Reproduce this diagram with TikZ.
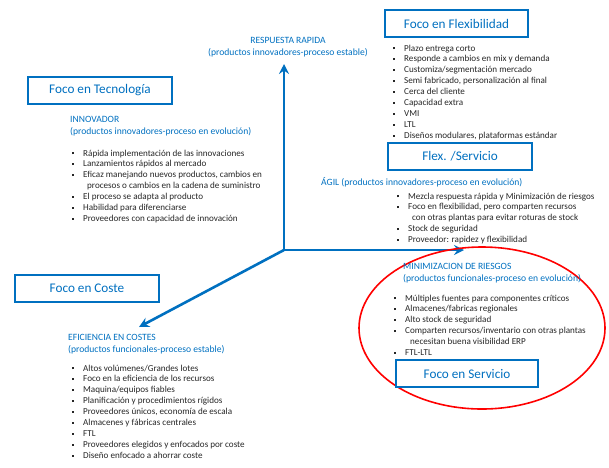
\documentclass[tikz,border=0pt]{standalone}
\usepackage{fontspec}
\setmainfont{Carlito}
\usetikzlibrary{arrows.meta}
\definecolor{mblue}{RGB}{0,112,192}
\definecolor{txt}{RGB}{38,38,38}
\newcommand\bx{\makebox[11pt][l]{\rule[1.7pt]{2pt}{2pt}}}
\tikzset{
  focobox/.style={draw=mblue, line width=2pt, fill=white, minimum width=#1, minimum height=27pt, inner sep=0pt, text=mblue, font=\fontsize{13.2}{15}\selectfont},
  head/.style={anchor=base west, inner sep=0pt, text=mblue, font=\fontsize{9.6}{12}\selectfont},
  lst/.style={anchor=base west, inner sep=0pt, text=txt, font=\fontsize{9.1}{10.9}\selectfont},
  axis/.style={draw=mblue, line width=2.6pt, -{Stealth[length=10pt,width=10pt,inset=3.5pt]}},
}
\begin{document}
\begin{tikzpicture}[x=1pt,y=-1pt]
\useasboundingbox (0,0) rectangle (609,467);
% axes
\coordinate (O) at (284,250);
\coordinate (tipU) at (284,64);
\coordinate (tipR) at (464,250);
\coordinate (tipD) at (139,327);
\draw[axis] (O) -- (tipU);
\draw[axis] (O) -- (tipR);
\draw[axis] (O) -- (tipD);
% red ellipse
\draw[red, line width=1.6pt] (482,328) ellipse [x radius=123pt, y radius=81pt];
% boxes
\node[focobox=144pt] (ftec) at (100,90) {Foco en Tecnología};
\node[focobox=143pt] (fflex) at (456.5,23.5) {Foco en Flexibilidad};
\node[focobox=144pt] (fserv2) at (460,156.5) {Flex. /Servicio};
\node[focobox=142pt] (fserv) at (467,373.5) {Foco en Servicio};
\node[focobox=144pt] (fcost) at (87,288) {Foco en Coste};
% respuesta rapida
\node[head, anchor=base] (rr) at (288,43.5) {\begin{tabular}[t]{@{}c@{}}RESPUESTA RAPIDA\\(productos innovadores-proceso estable)\end{tabular}};
% innovador
\node[head] (inn) at (70,122) {\begin{tabular}[t]{@{}l@{}}INNOVADOR\\(productos innovadores-proceso en evolución)\end{tabular}};
\node[lst] (innl) at (72,156) {\begin{tabular}[t]{@{}l@{}}
\bx Rápida implementación de las innovaciones\\
\bx Lanzamientos rápidos al mercado\\
\bx Eficaz manejando nuevos productos, cambios en\\
\hspace*{15pt}procesos o cambios en la cadena de suministro\\
\bx El proceso se adapta al producto\\
\bx Habilidad para diferenciarse\\
\bx Proveedores con capacidad de innovación
\end{tabular}};
% flexibilidad
\node[lst] (flexl) at (393,51) {\begin{tabular}[t]{@{}l@{}}
\bx Plazo entrega corto\\
\bx Responde a cambios en mix y demanda\\
\bx Customiza/segmentación mercado\\
\bx Semi fabricado, personalización al final\\
\bx Cerca del cliente\\
\bx Capacidad extra\\
\bx VMI\\
\bx LTL\\
\bx Diseños modulares, plataformas estándar
\end{tabular}};
% agil
\node[head] (agil) at (321,185) {ÁGIL (productos innovadores-proceso en evolución)};
\node[lst] (agill) at (397,199) {\begin{tabular}[t]{@{}l@{}}
\bx Mezcla respuesta rápida y Minimización de riesgos\\
\bx Foco en flexibilidad, pero comparten recursos\\
\hspace*{15pt}con otras plantas para evitar roturas de stock\\
\bx Stock de seguridad\\
\bx Proveedor: rapidez y flexibilidad
\end{tabular}};
% minimizacion
\node[head] (min) at (403,269.5) {\begin{tabular}[t]{@{}l@{}}MINIMIZACION DE RIESGOS\\(productos funcionales-proceso en evolución)\end{tabular}};
\node[lst] (minl) at (394,301) {\begin{tabular}[t]{@{}l@{}}
\bx Múltiples fuentes para componentes críticos\\
\bx Almacenes/fabricas regionales\\
\bx Alto stock de seguridad\\
\bx Comparten recursos/inventario con otras plantas\\
\hspace*{16pt}necesitan buena visibilidad ERP\\
\bx FTL-LTL
\end{tabular}};
% eficiencia
\node[head] (efi) at (68,340.5) {\begin{tabular}[t]{@{}l@{}}EFICIENCIA EN COSTES\\(productos funcionales-proceso estable)\end{tabular}};
\node[lst] (efil) at (72,371) {\begin{tabular}[t]{@{}l@{}}
\bx Altos volúmenes/Grandes lotes\\
\bx Foco en la eficiencia de los recursos\\
\bx Maquina/equipos fiables\\
\bx Planificación y procedimientos rígidos\\
\bx Proveedores únicos, economía de escala\\
\bx Almacenes y fábricas centrales\\
\bx FTL\\
\bx Proveedores elegidos y enfocados por coste\\
\bx Diseño enfocado a ahorrar coste
\end{tabular}};
\end{tikzpicture}
\end{document}
